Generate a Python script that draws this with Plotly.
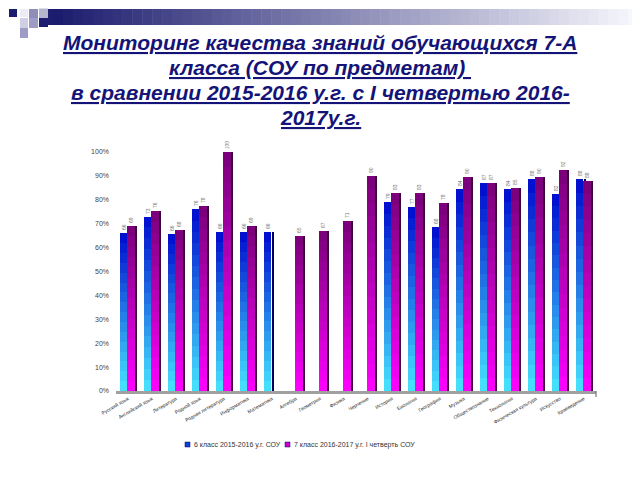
import plotly.graph_objects as go

# --- data -------------------------------------------------------------------
subjects = [
    "Русский язык", "Английский язык", "Литература", "Родной язык",
    "Родная литература", "Информатика", "Математика", "Алгебра",
    "Геометрия", "Физика", "Черчение", "История", "Биология",
    "География", "Музыка", "Обществознание", "Технология",
    "Физическая культура", "Искусство", "Краеведение",
]
sou_6_2015 = [0.66, 0.73, 0.655, 0.76, 0.665, 0.665, 0.665, None, None, None,
              None, 0.79, 0.77, 0.685, 0.845, 0.87, 0.845, 0.885, 0.825, 0.885]
sou_7_2016 = [0.69, 0.755, 0.675, 0.775, 1.00, 0.69, None, 0.65, 0.67, 0.71,
              0.90, 0.83, 0.83, 0.785, 0.895, 0.87, 0.85, 0.895, 0.925, 0.88]

series_names = ["6 класс 2015-2016 у.г. СОУ", "7 класс 2016-2017 у.г. I четверть СОУ"]
title_lines = [
    "Мониторинг качества знаний обучающихся 7-А",
    "класса (СОУ по предметам) ",
    "в сравнении 2015-2016 у.г. с I четвертью 2016-",
    "2017у.г.",
]

# --- geometry helpers -------------------------------------------------------
# the page body adds an 8px margin, so target pixels are shifted back by 8
OFF = 8
PLOT_L, PLOT_R, PLOT_T, PLOT_B = 116, 596, 152, 391
L, T = PLOT_L - OFF, PLOT_T - OFF
R, B = 640 - (PLOT_R - OFF), 480 - (PLOT_B - OFF)
PW, PH = PLOT_R - PLOT_L, PLOT_B - PLOT_T
FONT = "Liberation Sans, Arial, sans-serif"


def px(x):
    return (x - PLOT_L) / PW


def py(y):
    return (PLOT_B - y) / PH


def mix(c0, c1, f):
    return "rgb(%d,%d,%d)" % tuple(round(a + (b - a) * f) for a, b in zip(c0, c1))


NSEG = 16
fig = go.Figure()


def add_series(vals, offset, width, bottom, top, side, side_off, side_w):
    # dark 3-D side face
    fig.add_trace(go.Bar(
        x=subjects, y=vals, offset=side_off, width=side_w,
        marker=dict(color=side, line=dict(width=0)), showlegend=False, hoverinfo="skip",
    ))
    # vertical gradient built from stacked slices of the same value
    for k in range(NSEG):
        base = [None if v is None else v * k / NSEG for v in vals]
        part = [None if v is None else v / NSEG for v in vals]
        last = k == NSEG - 1
        fig.add_trace(go.Bar(
            x=subjects, y=part, base=base, offset=offset, width=width,
            marker=dict(color=mix(bottom, top, (k + 0.5) / NSEG), line=dict(width=0)),
            showlegend=False, hoverinfo="skip",
            text=[("" if v is None else "%d" % round(v * 100)) for v in vals] if last else None,
            textposition="outside" if last else None, textangle=-90,
            textfont=dict(size=5, color="#777777"), cliponaxis=False,
        ))


add_series(sou_6_2015, -0.335, 0.31, (70, 230, 255), (0, 10, 205), "#00005a", 0.0, 0.1)
add_series(sou_7_2016, -0.03, 0.32, (255, 0, 255), (120, 0, 120), "#3c003c", 0.28, 0.1)

# --- decoration: gradient header strip and squares --------------------------
shapes = []
x0, x1 = 53, 648
n = 60
for i in range(n):
    a = x0 + (x1 - x0) * i / n
    b = x0 + (x1 - x0) * (i + 1) / n + 0.5
    f = i / (n - 1)
    shapes.append(dict(type="rect", xref="paper", yref="paper",
                       x0=px(a), x1=px(b), y0=py(25), y1=py(9),
                       fillcolor=mix((28, 28, 110), (250, 250, 255), f), line=dict(width=0), layer="below"))
squares = [
    (4, 9, 8, 17, "#d8d8ea"), (9, 9, 17, 17, "#1c1c70"), (20, 9, 28, 17, "#ececf4"),
    (29, 9, 38, 18, "#8e8eb8"), (39, 0, 48, 9, "#dcdcea"), (39, 9, 48, 18, "#b4b4d0"),
    (48, 9, 53, 25, "#1c1c70"), (39, 18, 48, 27, "#1c1c70"), (20, 18, 28, 28, "#d0d0e4"),
    (29, 18, 38, 28, "#9c9cc4"), (20, 28, 28, 38, "#9c9cc4"),
]
for a, c, b, d, col in squares:
    shapes.append(dict(type="rect", xref="paper", yref="paper",
                       x0=px(a), x1=px(b), y0=py(d), y1=py(c),
                       fillcolor=col, line=dict(width=0), layer="below"))

# small end tick at the right of the floor line
shapes.append(dict(type="line", xref="paper", yref="paper",
                   x0=1, x1=1, y0=py(391), y1=py(397), line=dict(color="#606060", width=1)))

# hand-built legend (small squares close to their text, as in the original)
legend_items = [(185, "#1040e0", series_names[0]), (285, "#cc00cc", series_names[1])]
annotations = []
for lx, col, name in legend_items:
    shapes.append(dict(type="rect", xref="paper", yref="paper",
                       x0=px(lx), x1=px(lx + 5), y0=py(447), y1=py(442),
                       fillcolor=col, line=dict(color="#000060", width=0.5)))
    annotations.append(dict(xref="paper", yref="paper", x=px(lx + 7), y=py(444.5),
                            xanchor="left", yanchor="middle", showarrow=False, text=name,
                            font=dict(size=7, color="#333333", family=FONT)))

for i, line in enumerate(title_lines):
    annotations.append(dict(xref="paper", yref="paper", x=px(320), y=py(42 + 25 * i),
                            xanchor="center", yanchor="middle", showarrow=False,
                            text="<b><i><u>%s</u></i></b>" % line,
                            font=dict(size=21, color="#141478", family=FONT)))

fig.update_layout(
    width=640, height=480,
    margin=dict(l=L, r=R, t=T, b=B),
    paper_bgcolor="white", plot_bgcolor="white",
    barmode="overlay", bargap=0,
    shapes=shapes, annotations=annotations,
    showlegend=False,
    font=dict(family=FONT, color="#333333"),
)
fig.update_xaxes(
    showline=True, linecolor="#a0a0a0", linewidth=3, showgrid=False, automargin=False,
    tickangle=-30, tickfont=dict(size=5, color="#333333"), ticks="",
)
fig.update_yaxes(
    range=[0, 1.0], dtick=0.1, tickformat=".0%", showgrid=False, zeroline=False,
    showline=False, automargin=False, tickfont=dict(size=7, color="#444444"), ticks="",
    ticklabelstandoff=6,
)

fig.write_html("out.html")
